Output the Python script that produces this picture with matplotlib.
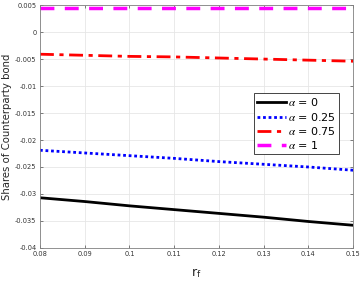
import numpy as np
import matplotlib
matplotlib.use("Agg")
import matplotlib.pyplot as plt

plt.rcParams['mathtext.fontset'] = 'stix'

rf = [0.08, 0.09, 0.10, 0.11, 0.12, 0.13, 0.14, 0.15]
alpha_0 = [-0.0307, -0.0314, -0.0322, -0.0329, -0.0336, -0.0343, -0.0351, -0.0358]
alpha_025 = [-0.0219, -0.0224, -0.0229, -0.0234, -0.0240, -0.0245, -0.0250, -0.0256]
alpha_075 = [-0.0041, -0.0043, -0.0045, -0.0046, -0.0048, -0.0050, -0.0052, -0.0054]
alpha_1 = [0.0045, 0.0045, 0.0045, 0.0045, 0.0045, 0.0045, 0.0045, 0.0045]

fig = plt.figure(figsize=(3.6, 2.84), dpi=100)
ax = fig.add_axes([0.111, 0.127, 0.870, 0.855])

ax.plot(rf, alpha_0, color='black', lw=2, label=r'$\alpha$ = 0')
ax.plot(rf, alpha_025, color='blue', lw=2, ls=(0, (1, 1)), label=r'$\alpha$ = 0.25')
ax.plot(rf, alpha_075, color='red', lw=2, ls=(0, (5, 2, 1.5, 2)), label=r'$\alpha$ = 0.75')
ax.plot(rf, alpha_1, color='magenta', lw=2.5, ls=(0, (4, 3)), label=r'$\alpha$ = 1')

ax.set_xlim(0.08, 0.15)
ax.set_ylim(-0.04, 0.005)
ax.set_xticks(rf)
ax.set_xticklabels(['0.08', '0.09', '0.1', '0.11', '0.12', '0.13', '0.14', '0.15'])
yt = [-0.04, -0.035, -0.03, -0.025, -0.02, -0.015, -0.01, -0.005, 0, 0.005]
ax.set_yticks(yt)
ax.set_yticklabels(['-0.04', '-0.035', '-0.03', '-0.025', '-0.02', '-0.015', '-0.01', '-0.005', '0', '0.005'])
ax.tick_params(direction='in', labelsize=4.8, colors='#4d4d4d', length=2.5, width=0.5,
               top=True, right=True, labelcolor='#333333', pad=2.5)
ax.grid(True, color='#e6e6e6', lw=0.6)
ax.set_axisbelow(True)
for s in ax.spines.values():
    s.set_color('#808080')
    s.set_linewidth(0.6)

ax.set_ylabel('Shares of Counterparty bond', fontsize=7.3, color='#262626')
ax.yaxis.set_label_coords(-0.09, 0.5)
ax.set_xlabel(r'r$_\mathregular{f}$', fontsize=9, color='#262626', labelpad=6)

leg = ax.legend(loc='upper right', bbox_to_anchor=(0.955, 0.638), fontsize=8,
                fancybox=False, framealpha=1, edgecolor='#262626', handlelength=2.6,
                handletextpad=0.2, borderpad=0.3, labelspacing=0.2, borderaxespad=0)
leg.get_frame().set_linewidth(0.6)

fig.savefig('out.png', dpi=100)
